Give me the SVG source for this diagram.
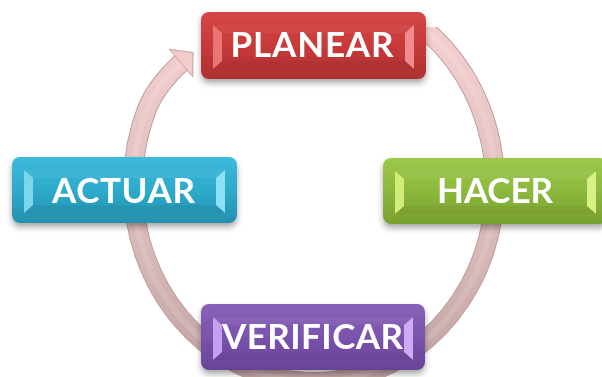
<svg xmlns="http://www.w3.org/2000/svg" width="602" height="377" viewBox="0 0 602 377">
  <style>
    .label { font-family: Lato, "Open Sans", "Liberation Sans", sans-serif; font-weight: 700; font-size: 35px; fill: #ffffff; text-anchor: middle; }
    .box { filter: url(#shadow); }
    .topBev { fill: #ffffff; fill-opacity: 0.05; }
    .botBev { fill: #000000; fill-opacity: 0.04; }
    .ring-edge { fill: none; stroke: #bf9c9c; stroke-width: 20; }
    .ring-fill { fill: none; stroke: url(#ringGrad); stroke-width: 18; }
    .ring-shine { fill: none; stroke: #ffffff; stroke-opacity: 0.12; stroke-width: 6; }
  </style>
  <defs>
    <filter id="shadow" x="-10%" y="-20%" width="120%" height="160%">
      <feDropShadow dx="0" dy="4" stdDeviation="3" flood-color="#000000" flood-opacity="0.35"/>
    </filter>
    <linearGradient id="ringGrad" gradientUnits="userSpaceOnUse" x1="0" y1="20" x2="0" y2="365">
      <stop offset="0" stop-color="#f4cfcf"/>
      <stop offset="0.5" stop-color="#e2c0c0"/>
      <stop offset="1" stop-color="#c3a5a5"/>
    </linearGradient>
    <linearGradient id="gRed" x1="0" y1="0" x2="0" y2="1">
      <stop offset="0" stop-color="#d44646"/>
      <stop offset="0.5" stop-color="#c83a3a"/>
      <stop offset="1" stop-color="#ad2f2f"/>
    </linearGradient>
    <linearGradient id="gTeal" x1="0" y1="0" x2="0" y2="1">
      <stop offset="0" stop-color="#3dbadb"/>
      <stop offset="0.5" stop-color="#2eaacb"/>
      <stop offset="1" stop-color="#2590ae"/>
    </linearGradient>
    <linearGradient id="gGreen" x1="0" y1="0" x2="0" y2="1">
      <stop offset="0" stop-color="#9dc84c"/>
      <stop offset="0.5" stop-color="#8cb83c"/>
      <stop offset="1" stop-color="#78a030"/>
    </linearGradient>
    <linearGradient id="gPurple" x1="0" y1="0" x2="0" y2="1">
      <stop offset="0" stop-color="#8862b8"/>
      <stop offset="0.5" stop-color="#7a52ac"/>
      <stop offset="1" stop-color="#684396"/>
    </linearGradient>
    <!-- keeps the ring's start tucked under the top box -->
    <clipPath id="ringClip">
      <polygon points="0,16 300,16 420,27 602,27 602,377 0,377"/>
    </clipPath>
  </defs>

  <!-- circular connector: clockwise ring ending in an arrowhead at top left -->
  <g id="connectors">
    <g clip-path="url(#ringClip)">
      <path class="ring-edge" d="M418,23.8 A181,197 0 1 1 146.6,110 Q155.4,86.6 181,63"/>
      <path class="ring-fill" d="M418,23.8 A181,197 0 1 1 146.6,110 Q155.4,86.6 181,63"/>
      <path class="ring-shine" d="M418,23.8 A181,197 0 1 1 146.6,110 Q155.4,86.6 181,63"/>
    </g>
    <polygon points="169.3,49.3 193.2,52.6 192.7,76.7" fill="#f2cccc" stroke="#c9a0a0" stroke-width="1" stroke-linejoin="round"/>
  </g>

  <!-- PLANEAR -->
  <g id="planear" class="box" transform="translate(201,12)">
    <rect width="225" height="67" rx="8" fill="url(#gRed)"/>
    <polygon class="topBev" points="12,13 213,13 204,21 21,21"/>
    <polygon class="botBev" points="12,57 213,57 204,49 21,49"/>
    <polygon points="12,13 21,21 21,49 12,57" fill="#e87676"/>
    <polygon points="213,13 204,21 204,49 213,57" fill="#f08c8c"/>
    <text class="label" x="111" y="45" textLength="163">PLANEAR</text>
  </g>

  <!-- HACER -->
  <g id="hacer" class="box" transform="translate(383,158)">
    <rect width="225" height="66" rx="8" fill="url(#gGreen)"/>
    <polygon class="topBev" points="12,13 213,13 204,21 21,21"/>
    <polygon class="botBev" points="12,56 213,56 204,48 21,48"/>
    <polygon points="12,13 21,21 21,48 12,56" fill="#d2ec7c"/>
    <polygon points="213,13 204,21 204,48 213,56" fill="#d8f086"/>
    <text class="label" x="112" y="45" textLength="116">HACER</text>
  </g>

  <!-- VERIFICAR -->
  <g id="verificar" class="box" transform="translate(201,304)">
    <rect width="224" height="66" rx="8" fill="url(#gPurple)"/>
    <polygon class="topBev" points="12,13 212,13 203,21 21,21"/>
    <polygon class="botBev" points="12,56 212,56 203,48 21,48"/>
    <polygon points="12,13 21,21 21,48 12,56" fill="#c6a0f0"/>
    <polygon points="212,13 203,21 203,48 212,56" fill="#cfaaf6"/>
    <text class="label" x="111.5" y="45" textLength="181">VERIFICAR</text>
  </g>

  <!-- ACTUAR -->
  <g id="actuar" class="box" transform="translate(12,157)">
    <rect width="225" height="66" rx="8" fill="url(#gTeal)"/>
    <polygon class="topBev" points="12,13 213,13 204,21 21,21"/>
    <polygon class="botBev" points="12,56 213,56 204,48 21,48"/>
    <polygon points="12,13 21,21 21,48 12,56" fill="#7dd6ec"/>
    <polygon points="213,13 204,21 204,48 213,56" fill="#8ce0f4"/>
    <text class="label" x="111.5" y="46" textLength="143">ACTUAR</text>
  </g>
</svg>
